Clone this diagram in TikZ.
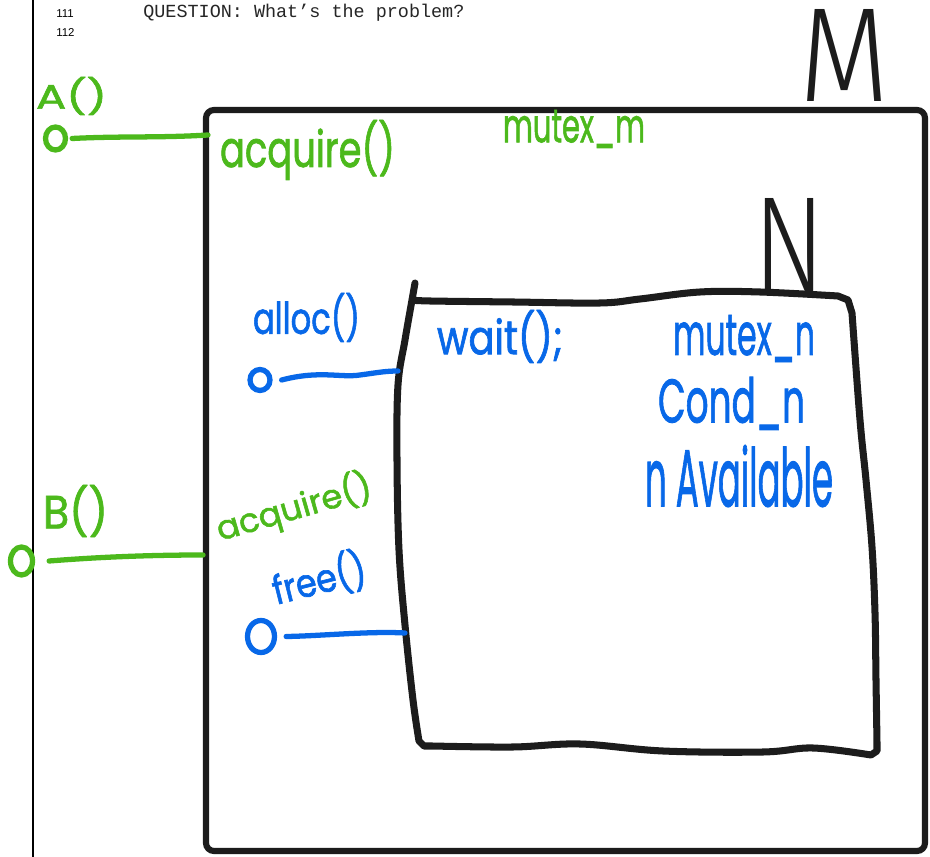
\documentclass[tikz,border=0pt]{standalone}
\usepackage{fontspec}
\usepackage{graphicx}
\usetikzlibrary{shapes.geometric}
\setmainfont{Liberation Sans}
\newfontfamily\monof{Liberation Mono}
\newfontfamily\handf{Poppins}[FakeBold=1.6]
\IfFontExistsTF{Fira Sans Light}{\newfontfamily\thinf{Fira Sans Light}}{\newfontfamily\thinf{Liberation Sans}}
\definecolor{hgreen}{RGB}{76,185,28}
\definecolor{hblue}{RGB}{8,104,232}
\definecolor{ink}{RGB}{28,28,28}
\newlength\pxu
\setlength\pxu{0.02cm}
\newcommand\hw[3]{\resizebox*{#1\pxu}{#2\pxu}{#3}}
\tikzset{
  hand/.style={inner sep=0pt, outer sep=0pt, font=\handf},
  gtext/.style={hand, text=hgreen},
  btext/.style={hand, text=hblue},
  ktext/.style={inner sep=0pt, outer sep=0pt, font=\thinf, text=ink},
  gline/.style={draw=hgreen, line width=3pt, line cap=round, line join=round},
  bline/.style={draw=hblue, line width=3pt, line cap=round, line join=round},
  port/.style={ellipse, inner sep=0pt, line width=3pt},
  outerbox/.style={draw=ink, line width=3.5pt, rounded corners=0.16cm},
  innerbox/.style={draw=ink, line width=4pt, line cap=round, line join=round},
}
\begin{document}
\begin{tikzpicture}[x=0.02cm,y=-0.02cm]
\useasboundingbox (0,0) rectangle (930,857);
\fill[white] (0,0) rectangle (930,857);

% page margin and header
\draw[black, line width=1.1pt] (33,0) -- (33,857);
\node[anchor=base west, inner sep=0pt, font=\fontsize{6.5}{7}\selectfont] (n111) at (56,18) {111};
\node[anchor=base west, inner sep=0pt, font=\fontsize{6.5}{7}\selectfont] (n112) at (56,37) {112};
\node[anchor=base west, inner sep=0pt, text=black!85, font=\monof\fontsize{10.5}{12}\selectfont] (q) at (143,18) {QUESTION: What’s the problem?};

% outer box M
\draw[outerbox] (206,110) rectangle (925,851);
\node[ktext] (M) at (844,55) {\hw{90}{92}{M}};

% inner box N
\draw[innerbox] plot[smooth,tension=.6] coordinates{(415,283)(412,300)(405,340)(398,385)(397,460)(399,550)(405,625)(413,700)(419,741)}
  -- (424,746) -- plot[smooth,tension=.6] coordinates{(432,746)(513,747)(580,744)(663,751)(763,752)(813,748)(871,755)}
  -- (877,751) -- plot[smooth,tension=.6] coordinates{(877,743)(876,680)(875,613)(872,547)(866,480)(860,420)(852,313)}
  -- (848,300) -- plot[smooth,tension=.6] coordinates{(838,296)(760,292)(700,292)(640,299)(600,303)(513,302)(430,301)(412,300)};
\node[ktext] (N) at (789.5,244.5) {\hw{72}{93}{N}};

% labels
\node[gtext] (tA) at (71.5,96) {\hw{71}{38}{A()}};
\node[gtext] (tacqA) at (307.5,150) {\hw{175}{60}{acquire()}};
\node[gtext] (tmm) at (574,129) {\hw{142}{38}{mutex\_m}};
\node[btext] (talloc) at (306.5,317.5) {\hw{107}{49}{alloc()}};
\node[btext] (twait) at (500,336.5) {\hw{126}{53}{wait();}};
\node[btext] (tmn) at (744,338.5) {\hw{142}{47}{mutex\_n}};
\node[btext] (tcond) at (731.5,403.5) {\hw{147}{53}{Cond\_n}};
\node[btext] (tavail) at (739,476) {\hw{188}{62}{n Available}};
\node[gtext] (tB) at (75.5,511) {\hw{65}{52}{B()}};
\node[gtext, rotate=16] (tacqB) at (294,508) {\hw{160}{40}{acquire()}};
\node[btext, rotate=14] (tfree) at (319,579) {\hw{95}{44}{free()}};

% ports
\node[port, draw=hgreen, minimum width=20\pxu, minimum height=23\pxu] (cA) at (55.5,138.5) {};
\node[port, draw=hgreen, minimum width=22\pxu, minimum height=28\pxu] (cB) at (21.5,561) {};
\node[port, draw=hblue, minimum width=20\pxu, minimum height=21\pxu] (cAl) at (260,380) {};
\node[port, draw=hblue, minimum width=27\pxu, minimum height=32\pxu] (cF) at (261,636.5) {};

\coordinate (pA) at (208,135);
\coordinate (pB) at (203,555);
\coordinate (pAl) at (398,371);
\coordinate (pF) at (405,633);

\draw[gline] ([xshift=4\pxu]cA.east) .. controls (120,136) and (160,138) .. (pA);
\draw[gline] ([xshift=14\pxu]cB.east) .. controls (100,557) and (150,555) .. (pB);
\draw[bline] ([xshift=9\pxu]cAl.east) .. controls (320,370) and (340,378) .. (360,375) .. controls (375,373) and (385,371) .. (pAl);
\draw[bline] ([xshift=9\pxu]cF.east) .. controls (320,636) and (370,631) .. (pF);
\end{tikzpicture}
\end{document}
